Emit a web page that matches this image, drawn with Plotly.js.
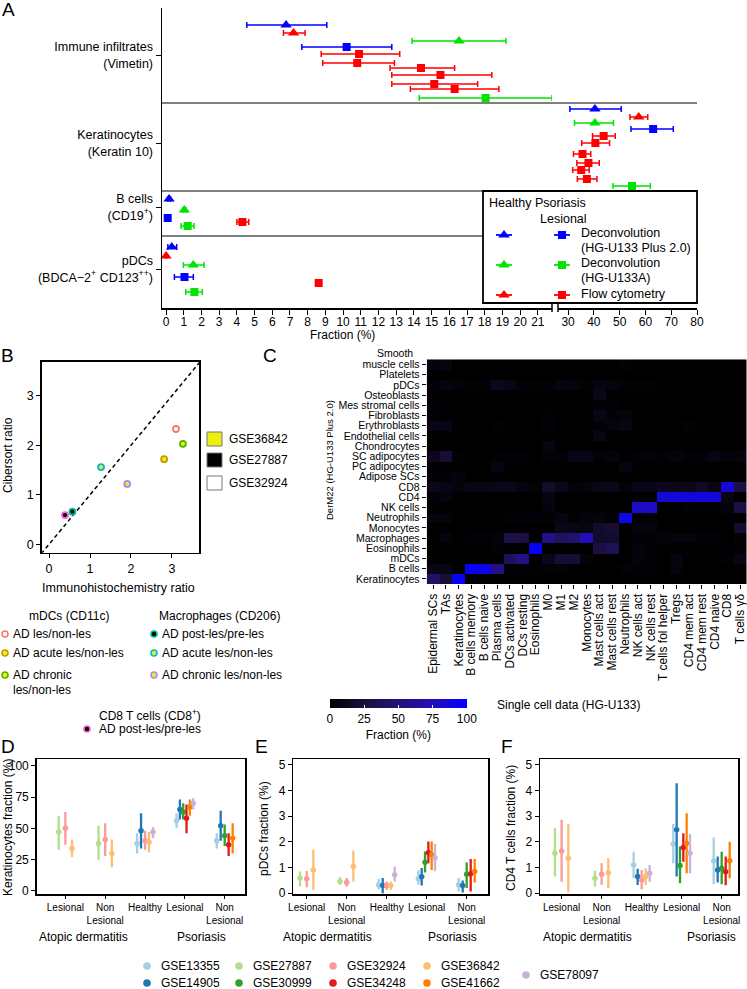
<!DOCTYPE html>
<html><head><meta charset="utf-8">
<script src="https://cdn.plot.ly/plotly-3.0.1.min.js"></script>
<style>html,body{margin:0;padding:0;background:#fff}#chart{width:747px;height:989px}</style>
</head><body><div id="chart"></div>
<script>
const W=747,H=989;
const X=p=>p/W, Y=p=>1-p/H;
const FONT='Liberation Sans, Arial, Helvetica, sans-serif';

// ================= Panel A data =================
const aRowLabels=['Immune infiltrates<br>(Vimetin)','Keratinocytes<br>(Keratin 10)','B cells<br>(CD19<sup>+</sup>)','pDCs<br>(BDCA−2<sup>+</sup> CD123<sup>++</sup>)'];
const aRowTickPos=[55,143,207,269];
const aSeparatorPos=[103,191,236];
const aTicksLeft=[0,1,2,3,4,5,6,7,8,9,10,11,12,13,14,15,16,17,18,19,20,21];
const aTicksRight=[30,40,50,60,70,80];
// Healthy (triangles)
const hPlus2Val=[6.78,40.4,0.17,0.32], hPlus2Lo=[4.56,30.7,0.1,0.1], hPlus2Hi=[9.08,50.6,0.25,0.6], hPlus2Row=[25,109,199,247];
const hU133AVal=[16.55,40.4,1.03,1.54], hU133ALo=[13.9,32.5,0.95,0.98], hU133AHi=[19.2,47.6,1.12,2.15], hU133ARow=[41,123,210,265];
const hFlowVal=[7.2,57.4,0.0], hFlowLo=[6.63,54.0,0.0], hFlowHi=[7.85,60.9,0.0], hFlowRow=[33,117,256];
// Psoriasis lesional (squares)
const pPlus2Val=[10.2,63.0,0.09,1.04], pPlus2Lo=[7.67,54.4,0.05,0.47], pPlus2Hi=[12.75,70.8,0.13,1.54], pPlus2Row=[47,129,218,277];
const pU133AVal=[18.05,54.8,1.22,1.6], pU133ALo=[14.3,47.4,0.85,1.11], pU133AHi=[21.8,61.9,1.58,2.05], pU133ARow=[98,186,226,292];
const pFlowVal=[10.9,10.8,14.4,15.5,15.15,16.3,43.8,40.6,35.6,37.9,35.1,37.3,4.31,8.62];
const pFlowLo=[8.76,8.85,12.65,12.75,12.75,13.8,39.5,35.3,32.1,33.4,31.8,33.6,4.0,8.5];
const pFlowHi=[13.2,12.9,16.3,18.4,17.6,18.8,48.3,46.1,38.8,42.1,38.2,41.2,4.67,8.75];
const pFlowRow=[54,63,68,75,84,89,136,143,154,163,170,179,222,283];
const aMethodNames=['Deconvolution<br>(HG-U133 Plus 2.0)','Deconvolution<br>(HG-U133A)','Flow cytometry'];
const aMethodColors=['#0000FF','#00E400','#FF0000'];
const aLegendRowY=[235,265,295];

// ================= Panel B data =================
const bGroups=['mDCs AD les/non-les','mDCs AD acute les/non-les','mDCs AD chronic les/non-les','Macrophages AD post-les/pre-les','Macrophages AD acute les/non-les','Macrophages AD chronic les/non-les','CD8 AD post-les/pre-les'];
const bIHC=[3.10,2.81,3.27,0.57,1.27,1.91,0.39];
const bCibersort=[2.33,1.72,2.03,0.66,1.56,1.22,0.59];
const bDataset=['GSE32924','GSE36842','GSE36842','GSE27887','GSE36842','GSE36842','GSE27887'];
const bRingColors=['#F8766D','#C49A00','#53B400','#00C094','#00B6EB','#A58AFF','#FB61D7'];
const bDatasetNames=['GSE36842','GSE27887','GSE32924'];
const bDatasetFill=['#EEEE10','#000000','#FFFFFF'];
const bIdentity=[-0.3,3.9];
const bTicks=[0,1,2,3];

// ================= Panel C data =================
const dermRows=['Smooth muscle cells','Platelets','pDCs','Osteoblasts','Mes stromal cells','Fibroblasts','Erythroblasts','Endothelial cells','Chondrocytes','SC adipocytes','PC adipocytes','Adipose SCs','CD8','CD4','NK cells','Neutrophils','Monocytes','Macrophages','Eosinophils','mDCs','B cells','Keratinocytes'];
const scCols=['Epidermal SCs','TAs','Keratinocytes','B cells memory','B cells naive','Plasma cells','DCs activated','DCs resting','Eosinophils','M0','M1','M2','Monocytes','Mast cells act','Mast cells rest','Neutrophils','NK cells act','NK cells rest','T cells fol helper','Tregs','CD4 mem act','CD4 mem rest','CD4 naive','CD8','T cells γδ'];
const fractionMatrix=[
 [4,6,0,0,0,0,0,0,0,0,0,0,0,0,0,3,0,0,0,0,0,0,0,0,0],
 [0,0,0,0,0,0,0,0,0,0,0,0,0,0,0,0,0,0,0,0,0,0,0,0,0],
 [2,6,3,2,2,12,8,2,2,2,6,5,2,6,5,2,2,2,0,0,0,0,0,0,0],
 [0,0,0,0,0,0,0,0,0,0,0,0,0,10,0,0,0,0,0,0,0,0,0,0,0],
 [2,0,0,0,0,0,0,0,0,0,0,0,0,2,2,0,0,0,0,0,0,0,0,0,0],
 [2,0,0,0,0,0,0,0,0,2,0,0,0,8,3,5,0,0,0,0,0,0,0,0,0],
 [9,9,0,0,0,2,0,0,0,3,0,0,0,2,5,7,0,0,0,0,3,0,0,0,0],
 [0,0,0,0,0,0,0,0,0,0,0,0,0,8,0,0,0,0,0,0,0,0,0,0,0],
 [0,0,0,0,0,0,0,0,0,6,0,0,0,0,0,0,0,0,0,0,0,0,0,0,0],
 [12,22,2,0,0,2,2,2,0,3,2,9,9,2,5,0,2,3,2,5,2,2,7,4,5],
 [0,0,0,0,0,7,0,0,0,0,0,0,0,0,0,6,0,0,0,0,0,0,0,0,0],
 [2,2,5,0,0,0,0,0,0,0,0,0,0,0,0,0,0,0,0,0,0,0,0,0,0],
 [10,9,5,8,8,10,10,6,3,18,10,3,5,10,10,3,9,9,13,10,10,16,8,85,28],
 [2,6,0,0,0,0,0,0,0,6,0,0,0,0,0,0,0,0,85,86,88,86,86,8,0],
 [0,0,0,0,0,0,0,0,0,5,0,0,0,0,0,0,80,80,0,0,3,2,2,5,28],
 [5,5,0,0,0,0,3,2,4,2,6,2,4,5,2,90,2,3,0,0,0,0,0,0,0],
 [0,0,0,0,0,0,0,0,0,0,10,8,6,18,22,0,5,5,0,0,0,0,0,0,20],
 [0,5,0,2,2,4,30,28,0,55,40,45,75,18,18,0,3,3,4,5,5,3,2,0,3],
 [0,0,0,0,0,3,0,0,95,0,0,0,0,28,35,0,5,3,0,0,0,0,0,0,2],
 [0,0,0,0,0,0,38,55,0,10,22,22,4,0,0,0,5,2,0,6,0,0,0,2,8],
 [8,8,0,96,92,55,2,2,2,3,3,0,0,0,0,3,2,2,0,5,0,0,0,0,0],
 [42,22,95,0,0,0,0,0,0,0,0,0,0,0,0,0,0,0,0,0,0,0,0,0,0]
];
const colorbarTicks=[0,25,50,75,100];

// ================= Panels D-F data =================
const datasets=['GSE13355','GSE14905','GSE27887','GSE30999','GSE32924','GSE34248','GSE36842','GSE41662','GSE78097'];
const dsColors=['#A6CEE3','#1F78B4','#B2DF8A','#33A02C','#FB9A99','#E31A1C','#FDBF6F','#FF7F00','#CAB2D6'];
const groupTicks=[1,2,3,4,5];
const groupLabels=['Lesional','Non<br>Lesional','Healthy','Lesional','Non<br>Lesional'];
const _=null;
// Keratinocytes fraction (%), groups: AD les, AD non-les, Healthy, Pso les, Pso non-les
const kerMean=[[_,_,38,56,40],[_,_,48,65,52],[47,38,_,_,_],[_,_,_,63,44],[50,41,40,_,_],[_,_,_,58,37],[34,30,39,_,_],[_,_,_,67,42],[_,_,47,70,_]];
const kerLo=[[_,_,30,50,34],[_,_,34,57,40],[33,25,_,_,_],[_,_,_,57,36],[37,28,33,_,_],[_,_,_,46,28],[27,19,31,_,_],[_,_,_,60,30],[_,_,42,65,_]];
const kerHi=[[_,_,46,62,46],[_,_,62,73,64],[60,52,_,_,_],[_,_,_,70,53],[63,54,48,_,_],[_,_,_,69,46],[41,41,47,_,_],[_,_,_,73,54],[_,_,51,74,_]];
// pDCs fraction (%)
const pdcMean=[[_,_,0.33,0.56,0.33],[_,_,0.30,0.64,0.30],[0.59,0.46,_,_,_],[_,_,_,1.21,0.74],[0.56,0.42,0.30,_,_],[_,_,_,1.58,0.76],[0.91,1.04,0.30,_,_],[_,_,_,1.50,0.85],[_,_,0.72,1.37,_]];
const pdcLo=[[_,_,0.16,0.33,0.07],[_,_,0.0,0.30,0.03],[0.26,0.33,_,_,_],[_,_,_,0.81,0.2],[0.23,0.26,0.13,_,_],[_,_,_,1.17,0.07],[0.13,0.46,0.13,_,_],[_,_,_,0.91,0.42],[_,_,0.46,0.87,_]];
const pdcHi=[[_,_,0.55,0.89,0.59],[_,_,0.59,0.98,0.50],[0.85,0.63,_,_,_],[_,_,_,1.63,1.2],[0.87,0.59,0.46,_,_],[_,_,_,2.02,1.33],[1.7,1.67,0.46,_,_],[_,_,_,2.02,1.33],[_,_,1.04,1.93,_]];
// CD4 T cells fraction (%)
const cd4Mean=[[_,_,1.1,1.92,1.26],[_,_,0.65,2.47,0.91],[1.56,0.58,_,_,_],[_,_,_,1.08,0.97],[1.65,0.74,0.52,_,_],[_,_,_,1.78,0.84],[1.36,0.80,0.65,_,_],[_,_,_,1.95,1.27],[_,_,0.78,1.56,_]];
const cd4Lo=[[_,_,0.58,1.17,0.35],[_,_,0.32,0.65,0.42],[0.65,0.26,_,_,_],[_,_,_,0.39,0.35],[0.45,0.33,0.16,_,_],[_,_,_,1.23,0.31],[0.03,0.19,0.32,_,_],[_,_,_,0.78,0.58],[_,_,0.45,0.78,_]];
const cd4Hi=[[_,_,1.62,2.7,2.17],[_,_,0.95,4.29,1.43],[2.53,0.88,_,_,_],[_,_,_,1.82,1.62],[2.86,1.17,0.91,_,_],[_,_,_,2.34,1.43],[2.7,1.36,0.97,_,_],[_,_,_,3.12,2.01],[_,_,1.1,2.31,_]];

// ================= build =================
const traces=[];
function aTraces(name,val,lo,hi,row,color,symbol,size){
  [['x',v=>v<24],['x2',v=>v>=24]].forEach(([ax,f])=>{
    const idx=val.map((v,i)=>i).filter(i=>f(val[i]));
    if(!idx.length) return;
    traces.push({type:'scatter',mode:'markers',xaxis:ax,yaxis:'y',name,showlegend:false,cliponaxis:false,
      x:idx.map(i=>val[i]),y:idx.map(i=>row[i]),
      error_x:{type:'data',symmetric:false,array:idx.map(i=>hi[i]-val[i]),arrayminus:idx.map(i=>val[i]-lo[i]),color,thickness:1.5,width:3},
      marker:{symbol,size,color,line:{width:0}}});
  });
}
aTraces('Healthy '+aMethodNames[0],hPlus2Val,hPlus2Lo,hPlus2Hi,hPlus2Row,aMethodColors[0],'triangle-up',10);
aTraces('Healthy '+aMethodNames[1],hU133AVal,hU133ALo,hU133AHi,hU133ARow,aMethodColors[1],'triangle-up',10);
aTraces('Healthy '+aMethodNames[2],hFlowVal,hFlowLo,hFlowHi,hFlowRow,aMethodColors[2],'triangle-up',10);
aTraces('Psoriasis '+aMethodNames[0],pPlus2Val,pPlus2Lo,pPlus2Hi,pPlus2Row,aMethodColors[0],'square',8);
aTraces('Psoriasis '+aMethodNames[1],pU133AVal,pU133ALo,pU133AHi,pU133ARow,aMethodColors[1],'square',8);
aTraces('Psoriasis '+aMethodNames[2],pFlowVal,pFlowLo,pFlowHi,pFlowRow,aMethodColors[2],'square',8);
// legend symbols for panel A (drawn on a hidden helper axis covering the legend box)
aMethodColors.forEach((c,i)=>{
  traces.push({type:'scatter',mode:'markers',xaxis:'x3',yaxis:'y3',showlegend:false,x:[504],y:[aLegendRowY[i]],
    error_x:{type:'constant',value:8,color:c,thickness:1.8,width:0},marker:{symbol:'triangle-up',size:10,color:c}});
  traces.push({type:'scatter',mode:'markers',xaxis:'x3',yaxis:'y3',showlegend:false,x:[562],y:[aLegendRowY[i]],
    error_x:{type:'constant',value:8,color:c,thickness:1.8,width:0},marker:{symbol:'square',size:8,color:c}});
});

// Panel B
traces.push({type:'scatter',mode:'lines',xaxis:'x4',yaxis:'y4',x:bIdentity,y:bIdentity,showlegend:false,line:{color:'#000',width:1.5,dash:'4px,3px'}});
traces.push({type:'scatter',mode:'markers',xaxis:'x4',yaxis:'y4',x:bIHC,y:bCibersort,text:bGroups,showlegend:false,cliponaxis:false,
  marker:{size:6,color:bDataset.map(d=>bDatasetFill[bDatasetNames.indexOf(d)]),line:{color:bRingColors,width:1.8}}});

// Panel C
traces.push({type:'heatmap',xaxis:'x5',yaxis:'y5',x:scCols,y:dermRows,z:fractionMatrix,zmin:0,zmax:100,
  colorscale:[[0,'#000000'],[0.25,'rgb(27,15,60)'],[0.5,'rgb(36,17,120)'],[0.75,'rgb(35,14,185)'],[1,'rgb(0,0,255)']],
  colorbar:{orientation:'h',x:X(398.3),xanchor:'center',y:Y(699),yanchor:'top',len:136.7,lenmode:'pixels',thickness:9,thicknessmode:'pixels',
    xpad:0,ypad:0,outlinewidth:0,tickvals:colorbarTicks,ticks:'inside',ticklen:3,tickcolor:'#fff',tickwidth:1,
    tickfont:{family:FONT,size:12,color:'#000'},title:{text:'Fraction (%)',side:'bottom',font:{family:FONT,size:12,color:'#000'}}}});

// Panels D-F
function dodge(meanArr){
  const xs=meanArr.map(()=>[]);
  groupTicks.forEach((gt,g)=>{
    const present=meanArr.map((r,i)=>r[g]!=null?i:-1).filter(i=>i>=0);
    const n=present.length,w=0.5/n;
    present.forEach((d,j)=>{xs[d][g]=gt+(j-(n-1)/2)*w;});
  });
  return xs;
}
function panelTraces(mean,lo,hi,xa,ya){
  const xs=dodge(mean);
  datasets.forEach((ds,d)=>{
    const idx=groupTicks.map((t,g)=>g).filter(g=>mean[d][g]!=null);
    traces.push({type:'scatter',mode:'markers',xaxis:xa,yaxis:ya,name:ds,showlegend:false,
      x:idx.map(g=>xs[d][g]),y:idx.map(g=>mean[d][g]),
      error_y:{type:'data',symmetric:false,array:idx.map(g=>hi[d][g]-mean[d][g]),arrayminus:idx.map(g=>mean[d][g]-lo[d][g]),color:dsColors[d],thickness:2.3,width:0},
      marker:{size:5.5,color:dsColors[d]}});
  });
}
panelTraces(kerMean,kerLo,kerHi,'x6','y6');
panelTraces(pdcMean,pdcLo,pdcHi,'x7','y7');
panelTraces(cd4Mean,cd4Lo,cd4Hi,'x8','y8');

// ================= layout =================
const tf=(s)=>({family:FONT,size:s,color:'#000'});
const base={showgrid:false,zeroline:false,showline:true,linecolor:'#000',linewidth:1.5,ticks:'outside',tickcolor:'#000',ticklen:4,tickwidth:1,tickfont:tf(12),fixedrange:true};
const ax=(o)=>Object.assign({},base,o);

const ann=[];
function T(text,x,y,size,xanchor,angle){ann.push({text,x:X(x),y:Y(y),xref:'paper',yref:'paper',showarrow:false,xanchor:xanchor||'left',yanchor:'middle',textangle:angle||0,font:tf(size||12)});}
const shapes=[];
function L(x0,y0,x1,y1,w){shapes.push({type:'line',xref:'paper',yref:'paper',x0:X(x0),y0:Y(y0),x1:X(x1),y1:Y(y1),line:{color:'#000',width:w||1.2},layer:'below'});}
function R(x0,y0,x1,y1,fill,lc,lw){shapes.push({type:'rect',xref:'paper',yref:'paper',x0:X(x0),y0:Y(y1),x1:X(x1),y1:Y(y0),fillcolor:fill,line:{color:lc,width:lw},layer:'below'});}
function C(cx,cy,r,fill,lc){shapes.push({type:'circle',xref:'paper',yref:'paper',x0:X(cx-r),x1:X(cx+r),y0:Y(cy+r),y1:Y(cy-r),fillcolor:fill,line:{color:lc,width:1.6},layer:'above'});}

// panel letters
[['A',8,10],['B',7,355],['C',270,355],['D',8,746],['E',261,746],['F',507,746]].forEach(([t,x,y])=>T(t,x,y,19,'center'));

// Panel A decorations
aSeparatorPos.forEach((p,i)=>shapes.push({type:'line',xref:'paper',yref:'y',x0:X(162),x1:X(i===2?483:697),y0:p,y1:p,line:{color:'#000',width:1.2},layer:'below'}));
R(483,191,697,303,'#fff','#000',1.8);
L(552,303,552,312,1.5); L(558,303,558,312,1.5);
T('Fraction (%)',342,335,12,'center');
T('Healthy',487,203,12.5); T('Psoriasis',533,203,12.5); T('Lesional',538,219,12.5);
T('Deconvolution',579,233,12.5); T('(HG-U133 Plus 2.0)',579,248,12.5);
T('Deconvolution',579,263,12.5); T('(HG-U133A)',579,278,12.5);
T('Flow cytometry',579,294,12.5);

// Panel B decorations
T('Cibersort ratio',8,455,12,'center',-90);
T('Immunohistochemistry ratio',118,588,12.5,'center');
bDatasetNames.forEach((n,i)=>{const cy=[439,460,483][i];R(207,cy-7,222,cy+7,bDatasetFill[i],'#777',1);T(n,227,cy,12);});
T('mDCs (CD11c)',69,616,12,'center');
C(5,634,3,'#fff',bRingColors[0]); T('AD les/non-les',11,634,12);
C(5,653,3,bDatasetFill[0],bRingColors[1]); T('AD acute les/non-les',11,653,12);
C(5,675,3,bDatasetFill[0],bRingColors[2]); T('AD chronic',11,675,12); T('les/non-les',11,690,12);
T('Macrophages (CD206)',157,616,12);
C(154,634,3,'#000',bRingColors[3]); T('AD post-les/pre-les',160,634,12);
C(154,653,3,bDatasetFill[0],bRingColors[4]); T('AD acute les/non-les',160,653,12);
C(154,675,3,bDatasetFill[0],bRingColors[5]); T('AD chronic les/non-les',160,675,12);
T('CD8 T cells (CD8<sup>+</sup>)',97,715,12);
C(87,729,3,'#000',bRingColors[6]); T('AD post-les/pre-les',97,729,12);

// Panel C decorations
T('DerM22 (HG-U133 Plus 2.0)',330,460,9.5,'center',-90);
T('Smooth',415,352.5,10.5,'right');
T('Single cell data (HG-U133)',495,705,12);

// Panels D-F decorations
T('Keratinocytes fraction (%)',8,828,12,'center',-90);
T('pDCs fraction (%)',264,829,12,'center',-90);
T('CD4 T cells fraction (%)',511,828,12,'center',-90);
[[83,202],[327,452],[587,711]].forEach(([a,p])=>{T('Atopic dermatitis',a,937,12,'center');T('Psoriasis',p,937,12,'center');});

// bottom legend
const legX=[147,147,239,239,333,333,427,427,526];
const legY=[966,983,966,983,966,983,966,983,975];
datasets.forEach((d,i)=>{C(legX[i],legY[i],3,dsColors[i],dsColors[i]);T(d,legX[i]+12,legY[i],12);});

const layout={
  width:W,height:H,margin:{l:0,r:0,t:0,b:0,autoexpand:false},
  paper_bgcolor:'#fff',plot_bgcolor:'rgba(0,0,0,0)',showlegend:false,font:{family:FONT,color:'#000'},
  // Panel A
  xaxis:ax({domain:[X(162),X(552)],range:[-0.23,21.8],tickvals:aTicksLeft,anchor:'y',ticklen:5,tickfont:tf(12),ticklabelstandoff:-3}),
  xaxis2:ax({domain:[X(558),X(697)],range:[26.1,80],tickvals:aTicksRight,anchor:'y',ticklen:5,tickfont:tf(12),ticklabelstandoff:-3}),
  yaxis:ax({domain:[Y(308),Y(8)],range:[308,8],tickvals:aRowTickPos,ticktext:aRowLabels,anchor:'x',ticklen:5,tickfont:tf(12.5)}),
  xaxis3:{domain:[X(483),X(697)],range:[483,697],visible:false,anchor:'y3',fixedrange:true},
  yaxis3:{domain:[Y(303),Y(191)],range:[303,191],visible:false,anchor:'x3',fixedrange:true},
  // Panel B
  xaxis4:ax({domain:[X(41.7),X(199.3)],range:[-0.18,3.67],tickvals:bTicks,mirror:true,anchor:'y4',tickfont:tf(12.5)}),
  yaxis4:ax({domain:[Y(552.7),Y(361.7)],range:[-0.17,3.69],tickvals:bTicks,mirror:true,anchor:'x4',tickfont:tf(12.5)}),
  // Panel C
  xaxis5:ax({domain:[X(426.7),X(746.7)],anchor:'y5',showline:false,tickangle:-90,tickfont:tf(12),ticklen:4,tickmode:'array',tickvals:scCols,ticktext:scCols}),
  yaxis5:ax({domain:[Y(584),Y(359.3)],anchor:'x5',showline:false,autorange:'reversed',tickfont:tf(10.5),ticklen:4,tickmode:'array',
    tickvals:dermRows,ticktext:dermRows.map(r=>r==='Smooth muscle cells'?'muscle cells':r)}),
  // Panel D
  xaxis6:ax({domain:[X(36.7),X(245)],range:[0.28,5.51],tickvals:groupTicks,ticktext:groupLabels,mirror:true,anchor:'y6',ticklen:3,tickfont:tf(10)}),
  yaxis6:ax({domain:[Y(894),Y(759.3)],range:[-2.4,105.1],tickvals:[0,25,50,75,100],mirror:true,anchor:'x6',tickfont:tf(12)}),
  // Panel E
  xaxis7:ax({domain:[X(293.3),X(488.3)],range:[0.665,5.54],tickvals:groupTicks,ticktext:groupLabels,mirror:true,anchor:'y7',ticklen:3,tickfont:tf(10)}),
  yaxis7:ax({domain:[Y(894),Y(759.3)],range:[-0.03,5.22],tickvals:[0,1,2,3,4,5],mirror:true,anchor:'x7',tickfont:tf(12)}),
  // Panel F
  xaxis8:ax({domain:[X(540),X(738.3)],range:[0.46,5.415],tickvals:groupTicks,ticktext:groupLabels,mirror:true,anchor:'y8',ticklen:3,tickfont:tf(10)}),
  yaxis8:ax({domain:[Y(894),Y(759.3)],range:[-0.03,5.22],tickvals:[0,1,2,3,4,5],mirror:true,anchor:'x8',tickfont:tf(12)}),
  annotations:ann,shapes:shapes
};
Plotly.newPlot('chart',traces,layout,{displayModeBar:false,staticPlot:true});
</script></body></html>
